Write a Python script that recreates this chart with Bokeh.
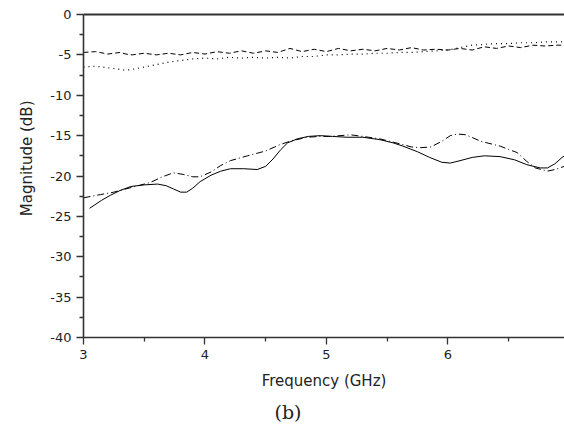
from bokeh.plotting import figure
from bokeh.models import Range1d, LinearAxis, FixedTicker, Title, PrintfTickFormatter
from bokeh.embed import file_html
from bokeh.resources import INLINE

# ---- data ----
freq_top = [3.0, 3.1, 3.2, 3.3, 3.35, 3.4, 3.5, 3.6, 3.7, 3.8, 3.9, 4.0, 4.1, 4.2, 4.3, 4.4, 4.5, 4.6,
            4.7, 4.8, 4.9, 5.0, 5.1, 5.2, 5.3, 5.4, 5.5, 5.6, 5.7, 5.8, 5.9, 6.0, 6.1, 6.2, 6.3, 6.4,
            6.5, 6.6, 6.7, 6.8, 6.9, 6.96]
dashed_db = [-4.7, -4.6, -4.9, -4.7, -4.9, -5.0, -4.8, -5.0, -4.8, -5.0, -4.7, -4.9, -4.6, -4.8, -4.5,
             -4.8, -4.5, -4.7, -4.2, -4.6, -4.3, -4.6, -4.2, -4.5, -4.3, -4.5, -4.2, -4.4, -4.1, -4.4,
             -4.3, -4.4, -4.2, -4.4, -4.0, -4.2, -3.9, -4.1, -3.8, -3.9, -3.8, -3.8]
dotted_db = [-6.5, -6.4, -6.6, -6.8, -6.9, -6.8, -6.5, -6.2, -5.9, -5.7, -5.5, -5.4, -5.5, -5.3, -5.4,
             -5.3, -5.4, -5.3, -5.4, -5.2, -5.2, -5.0, -5.0, -4.9, -4.9, -4.8, -4.8, -4.7, -4.7, -4.6,
             -4.5, -4.4, -4.1, -3.8, -3.7, -3.6, -3.6, -3.5, -3.5, -3.4, -3.4, -3.4]

freq_solid = [3.05, 3.15, 3.22, 3.3, 3.39, 3.5, 3.61, 3.68, 3.74, 3.8, 3.85, 3.9, 3.96, 4.05, 4.13,
              4.21, 4.32, 4.43, 4.5, 4.56, 4.62, 4.68, 4.76, 4.85, 4.95, 5.05, 5.17, 5.3, 5.44, 5.55,
              5.63, 5.75, 5.85, 5.95, 6.02, 6.1, 6.2, 6.3, 6.43, 6.55, 6.65, 6.76, 6.82, 6.88, 6.94, 6.96]
solid_db = [-24.0, -23.0, -22.4, -21.8, -21.3, -21.1, -21.0, -21.2, -21.6, -22.0, -22.0, -21.5, -20.7,
            -19.9, -19.4, -19.1, -19.1, -19.2, -18.8, -17.9, -16.8, -15.9, -15.4, -15.1, -15.0, -15.1,
            -15.2, -15.2, -15.5, -15.9, -16.3, -17.0, -17.7, -18.3, -18.4, -18.1, -17.7, -17.5, -17.6,
            -18.0, -18.6, -19.0, -19.0, -18.5, -17.7, -17.5]

freq_dashdot = [3.0, 3.14, 3.25, 3.4, 3.55, 3.65, 3.74, 3.82, 3.9, 3.96, 4.05, 4.13, 4.21, 4.35, 4.5,
                4.62, 4.7, 4.84, 4.95, 5.03, 5.2, 5.3, 5.44, 5.6, 5.7, 5.77, 5.86, 5.95, 6.02, 6.08,
                6.15, 6.27, 6.43, 6.57, 6.65, 6.72, 6.82, 6.88, 6.96]
dashdot_db = [-22.7, -22.3, -22.0, -21.4, -20.8, -20.1, -19.6, -19.8, -20.1, -20.1, -19.5, -18.7, -18.1,
              -17.5, -16.9, -16.1, -15.7, -15.2, -15.1, -15.1, -14.9, -15.1, -15.4, -16.0, -16.4, -16.5,
              -16.4, -15.7, -15.0, -14.8, -14.9, -15.7, -16.3, -17.1, -18.2, -19.0, -19.4, -19.2, -18.8]

x_ticks = [3, 4, 5, 6]
y_ticks = [0, -5, -10, -15, -20, -25, -30, -35, -40]

FONT = "DejaVu Sans"
AXC = "#333333"

p = figure(width=564, height=428, output_backend="svg", toolbar_location=None,
           x_range=Range1d(3, 6.96), y_range=Range1d(-40, 0),
           min_border_left=83, min_border_right=0, min_border_top=14, min_border_bottom=20)
p.outline_line_color = None
p.grid.visible = False
p.background_fill_color = "white"
p.border_fill_color = "white"

p.line(freq_top, dashed_db, line_color="black", line_width=1, line_dash="5 3")
p.line(freq_top, dotted_db, line_color="black", line_width=1.2, line_dash="1 4")
p.line(freq_solid, solid_db, line_color="black", line_width=1)
p.line(freq_dashdot, dashdot_db, line_color="black", line_width=1, line_dash="7 3 1 3")

xa = p.xaxis[0]
xa.ticker = FixedTicker(ticks=x_ticks, minor_ticks=[3.5, 4.5, 5.5, 6.5])
xa.axis_label = "Frequency (GHz)"
ya = p.yaxis[0]
ya.ticker = FixedTicker(ticks=y_ticks, minor_ticks=[-2.5, -7.5, -12.5, -17.5, -22.5, -27.5, -32.5, -37.5])
ya.formatter = PrintfTickFormatter(format="%d")
xa.formatter = PrintfTickFormatter(format="%d")

for ax in (xa, ya):
    ax.axis_line_color = AXC
    ax.axis_line_width = 1.6
    ax.major_tick_line_color = AXC
    ax.minor_tick_line_color = AXC
    ax.major_tick_line_width = 1.3
    ax.minor_tick_line_width = 1.3
    ax.major_tick_in = 0
    ax.major_tick_out = 7
    ax.minor_tick_in = 0
    ax.minor_tick_out = 4
    ax.major_label_text_font = FONT
    ax.major_label_text_font_size = "13px"
    ax.major_label_text_color = "#222222"
    ax.axis_label_text_font = FONT
    ax.axis_label_text_font_size = "15px"
    ax.axis_label_text_font_style = "normal"
    ax.axis_label_text_color = "#222222"
    ax.major_label_standoff = 5

xa.axis_label_standoff = 10

top = LinearAxis(ticker=FixedTicker(ticks=[]), major_label_text_font_size="0px",
                 axis_line_color=AXC, axis_line_width=1.8, major_tick_out=0, minor_tick_out=0)
p.add_layout(top, "above")

p.add_layout(Title(text="Magnitude (dB)", align="right", offset=86, standoff=24,
                   text_font=FONT, text_font_size="15px", text_font_style="normal",
                   text_color="#222222"), "left")

p.add_layout(Title(text="(b)", align="left", offset=191, standoff=12,
                   text_font="DejaVu Serif", text_font_size="19px", text_font_style="normal",
                   text_color="#222222"), "below")

open("out.html", "w").write(file_html(p, INLINE))
